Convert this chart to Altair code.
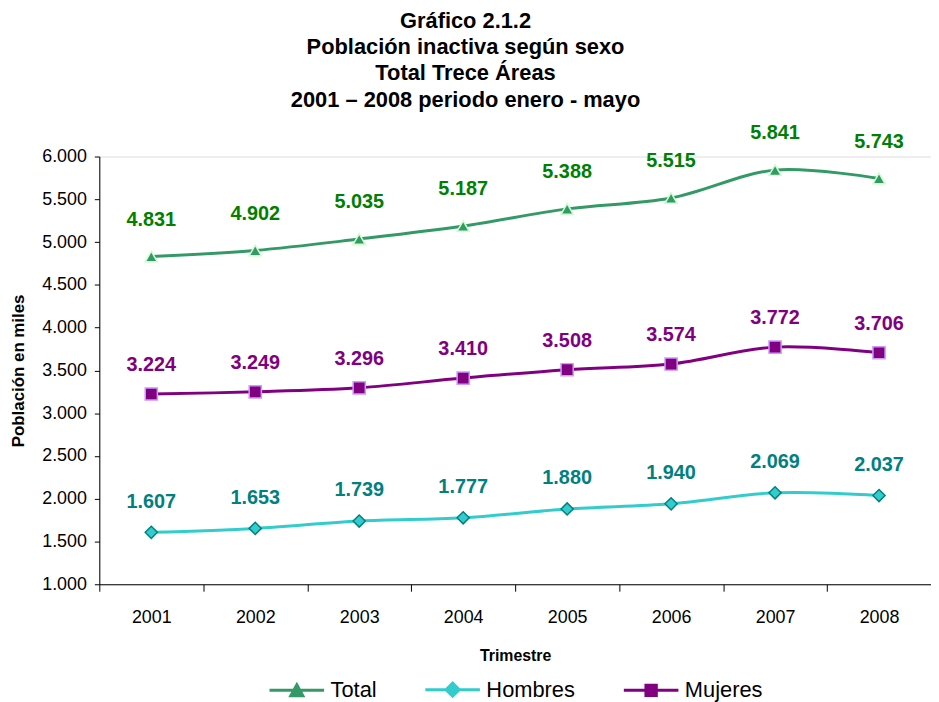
import altair as alt
import pandas as pd

years = ["2001", "2002", "2003", "2004", "2005", "2006", "2007", "2008"]
total = [4831, 4902, 5035, 5187, 5388, 5515, 5841, 5743]
hombres = [1607, 1653, 1739, 1777, 1880, 1940, 2069, 2037]
mujeres = [3224, 3249, 3296, 3410, 3508, 3574, 3772, 3706]
series_names = ["Total", "Hombres", "Mujeres"]
y_ticks = [1000, 1500, 2000, 2500, 3000, 3500, 4000, 4500, 5000, 5500, 6000]
title_lines = [
    "Gráfico 2.1.2",
    "Población inactiva según sexo",
    "Total Trece Áreas",
    "2001 – 2008 periodo enero - mayo",
]

rows = []
for name, vals in zip(series_names, [total, hombres, mujeres]):
    for yr, v in zip(years, vals):
        rows.append({"year": yr, "serie": name, "value": v})
df = pd.DataFrame(rows)

FONT = "Liberation Sans"
line_colors = ["#339966", "#33CCCC", "#800080"]
marker_strokes = ["#CCFFCC", "#008080", "#CC99FF"]
label_colors = ["#008000", "#008080", "#800080"]
label_dy = [-37, -31, -29]
shapes = ["triangle-up", "diamond", "square"]
legend_shapes = [
    "M-1,0H1M0,-0.2L0.22,0.2L-0.22,0.2Z",
    "M-1,0H1M0,-0.24L0.24,0L0,0.24L-0.24,0Z",
    "M-1,0H1M-0.19,-0.19H0.19V0.19H-0.19Z",
]

fmt = "replace(format(datum.value, ','), ',', '.')"

x_enc = alt.X(
    "year:N",
    bandPosition=0.5,
    scale=alt.Scale(type="band", paddingInner=0, paddingOuter=0),
    axis=alt.Axis(
        title="Trimestre", labelAngle=0, tickBand="extent", tickSize=7,
        labelPadding=18, labelFontSize=18, labelFont=FONT, labelColor="black",
        domainColor="black", tickColor="black", grid=False,
        titleFont=FONT, titleFontSize=16, titleFontWeight="bold", titleColor="black",
        titlePadding=21,
    ),
)
y_enc = alt.Y(
    "value:Q",
    scale=alt.Scale(domain=[1000, 6000], nice=False, zero=False),
    axis=alt.Axis(
        values=y_ticks, labelExpr=fmt, grid=False, tickSize=5,
        labelPadding=8, labelFontSize=18, labelFont=FONT, labelColor="black",
        domainColor="black", tickColor="black",
        title="Población en miles", titleFont=FONT, titleFontSize=17,
        titleFontWeight="bold", titleColor="black", titlePadding=14,
    ),
)

base = alt.Chart(df)

lines = base.mark_line(interpolate="catmull-rom", strokeWidth=3).encode(
    x=x_enc, y=y_enc,
    stroke=alt.Stroke("serie:N", scale=alt.Scale(domain=series_names, range=line_colors), legend=None),
)

points = base.mark_point(filled=True, size=150, strokeWidth=1.5, opacity=1).encode(
    x=x_enc, y=y_enc,
    shape=alt.Shape("serie:N", scale=alt.Scale(domain=series_names, range=shapes), legend=None),
    fill=alt.Fill("serie:N", scale=alt.Scale(domain=series_names, range=line_colors), legend=None),
    stroke=alt.Stroke("serie:N", scale=alt.Scale(domain=series_names, range=marker_strokes), legend=None),
)

texts = []
for name, col, dy in zip(series_names, label_colors, label_dy):
    texts.append(
        base.transform_filter(alt.datum.serie == name)
        .transform_calculate(lbl="replace(format(datum.value, ','), ',', '.')")
        .mark_text(font=FONT, fontSize=20, fontWeight="bold", color=col, dy=dy)
        .encode(x=x_enc, y=y_enc, text="lbl:N")
    )

leg = alt.Legend(
    orient="none", legendX=170, legendY=508, direction="horizontal", title=None,
    symbolSize=3025, symbolStrokeWidth=3, labelFontSize=22, labelFont=FONT,
    labelColor="black", labelOffset=5, columnPadding=42,
)
legend_layer = base.transform_filter("false").mark_point(filled=True, strokeWidth=3, opacity=1).encode(
    x=x_enc, y=y_enc,
    shape=alt.Shape("serie:N", scale=alt.Scale(domain=series_names, range=legend_shapes), legend=leg),
    fill=alt.Fill("serie:N", scale=alt.Scale(domain=series_names, range=line_colors), legend=leg),
    stroke=alt.Stroke("serie:N", scale=alt.Scale(domain=series_names, range=line_colors), legend=leg),
)

chart = alt.layer(lines, points, *texts, legend_layer).resolve_scale(
    stroke="independent", fill="independent", shape="independent"
).properties(
    width=838, height=431,
    autosize="none",
    padding={"left": 92, "top": 147, "right": 0, "bottom": 116},
    title=alt.TitleParams(
        text=title_lines, font=FONT, fontSize=22, fontWeight="bold", color="black",
        lineHeight=26.5, anchor="middle", frame="group", offset=12, dx=-50,
    ),
).configure_view(stroke=None).configure(background="white")

chart.save("out.html", embed_options={"renderer": "svg", "actions": False})
